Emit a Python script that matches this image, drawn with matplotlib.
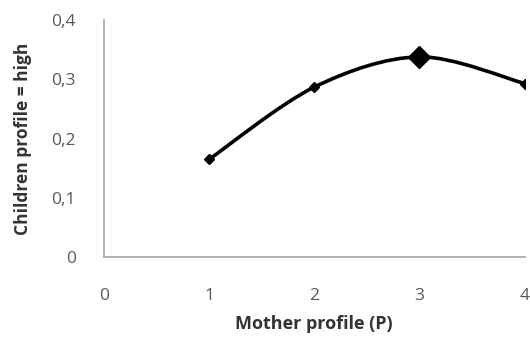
import matplotlib.pyplot as plt
from matplotlib.path import Path
import matplotlib.patches as patches
import numpy as np

# Mother profile vs. share of children with a high profile
mother_profile = [1, 2, 3, 4]
children_high = [0.165, 0.287, 0.338, 0.293]
x_ticks = [0, 1, 2, 3, 4]
y_ticks = [0, 0.1, 0.2, 0.3, 0.4]
y_tick_labels = ['0', '0,1', '0,2', '0,3', '0,4']


def smooth_path(xs, ys, tension=0.16):
    """Bezier path through the points, like a spreadsheet 'smoothed line'."""
    pts = np.column_stack([xs, ys])
    verts = [pts[0]]
    codes = [Path.MOVETO]
    n = len(pts)
    for i in range(n - 1):
        p0 = pts[i - 1] if i > 0 else pts[i]
        p1, p2 = pts[i], pts[i + 1]
        p3 = pts[i + 2] if i + 2 < n else pts[i + 1]
        c1 = p1 + (p2 - p0) * tension
        c2 = p2 - (p3 - p1) * tension
        verts += [c1, c2, p2]
        codes += [Path.CURVE4] * 3
    return Path(verts, codes)


plt.rcParams['font.family'] = ['Open Sans', 'DejaVu Sans']

fig = plt.figure(figsize=(5.3, 3.47), dpi=100)
ax = fig.add_axes([0.196, 0.259, 0.794, 0.683])

ax.add_patch(patches.PathPatch(smooth_path(mother_profile, children_high),
                               facecolor='none', edgecolor='black', lw=2.6,
                               capstyle='round', joinstyle='round'))
sizes = [5.5, 5.5, 11, 5.5]
for x, y, s in zip(mother_profile, children_high, sizes):
    ax.plot(x, y, marker='D', ms=s, color='black', zorder=3)

ax.set_xlim(0, 4)
ax.set_ylim(0, 0.4)
ax.set_xticks(x_ticks)
ax.set_yticks(y_ticks)
ax.set_yticklabels(y_tick_labels)
ax.tick_params(axis='both', length=0, labelsize=12.5, labelcolor='#595959')
ax.tick_params(axis='x', pad=22)
ax.tick_params(axis='y', pad=20)

for side in ['top', 'right']:
    ax.spines[side].set_visible(False)
for side in ['left', 'bottom']:
    ax.spines[side].set_color('#a6a6a6')
    ax.spines[side].set_linewidth(1.2)

ax.set_xlabel('Mother profile (P)', fontsize=13, fontweight='bold',
              color='#333333', labelpad=8)
ax.set_ylabel('Children profile = high', fontsize=12.5, fontweight='bold',
              color='#333333', labelpad=14)

fig.savefig('out.png', dpi=100)
